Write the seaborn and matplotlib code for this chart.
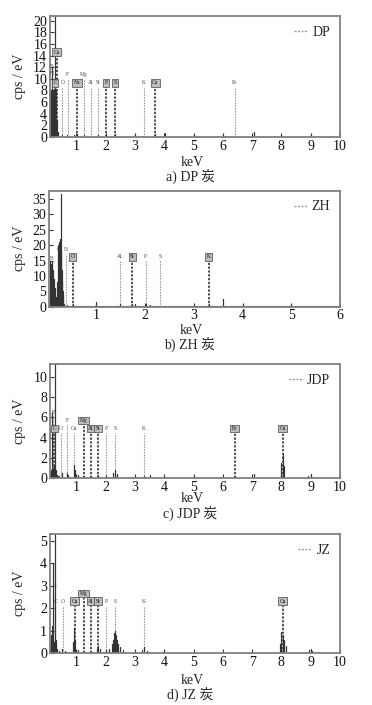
import numpy as np
import pandas as pd
import matplotlib
matplotlib.use("Agg")
import matplotlib.pyplot as plt
from matplotlib.lines import Line2D
import seaborn as sns

sns.set_style("ticks")
plt.rcParams["font.family"] = ["Liberation Serif", "Noto Sans CJK SC", "DejaVu Sans"]

# ---------------- data ----------------
# a) DP
a_kev = [0.10, 0.11, 0.12, 0.13, 0.14, 0.15, 0.16, 0.17, 0.18, 0.19, 0.20, 0.21, 0.22, 0.23,
         0.24, 0.25, 0.26, 0.27, 0.28, 0.29, 0.30, 0.31, 0.32, 0.33, 0.34, 0.35, 0.36,
         0.52, 0.68, 0.93, 1.02, 1.25, 1.49, 1.74, 2.01, 2.31, 3.00, 3.31, 3.69, 4.01,
         5.00, 6.00, 6.40, 7.05, 8.00, 9.00]
a_cps = [7.5, 3.0, 8.0, 2.5, 6.5, 1.5, 7.8, 3.0, 11.8, 2.0, 8.0, 3.5, 7.0, 4.0,
         8.2, 5.0, 9.0, 21.0, 8.5, 4.0, 8.0, 2.0, 7.0, 1.5, 3.0, 1.0, 0.8,
         0.3, 0.4, 0.3, 0.6, 0.3, 0.2, 0.3, 0.2, 0.5, 0.6, 0.2, 0.6, 0.7,
         0.3, 0.3, 0.2, 0.8, 0.3, 0.6]
a_el = ["B", "N", "Ca", "C", "O", "F", "Na", "Mg", "Al", "Si", "P", "S", "K", "Ca", "Fe"]
a_el_kev = [0.16, 0.18, 0.33, 0.28, 0.52, 0.70, 1.02, 1.25, 1.49, 1.74, 2.01, 2.31, 3.31, 3.69, 6.40]
a_el_y = [12.2, 10.9, 14.6, 9.3, 9.3, 10.7, 9.3, 10.7, 9.3, 9.3, 9.3, 9.3, 9.3, 9.3, 9.3]
a_el_box = [False, False, True, True, False, False, True, False, False, False, True, True, False, True, False]

# b) ZH
b_kev = [0.05, 0.06, 0.07, 0.08, 0.09, 0.10, 0.11, 0.12, 0.13, 0.14, 0.15, 0.16, 0.17, 0.18,
         0.19, 0.20, 0.21, 0.22, 0.23, 0.24, 0.25, 0.26, 0.27, 0.28, 0.29, 0.30, 0.31, 0.32,
         0.33, 0.39, 0.52, 1.00, 1.49, 1.74, 1.80, 2.01, 2.10, 3.00, 3.31, 3.60, 4.00, 5.00]
b_cps = [15, 4, 14, 3, 15, 5, 12, 3, 9, 2, 6, 2, 3, 1.5,
         3, 8, 4, 20, 6, 21, 9, 22, 36.5, 18, 8, 12, 3, 5,
         1, 0.5, 1.0, 1.5, 1.0, 1.0, 0.8, 0.8, 0.5, 0.5, 0.8, 2.5, 0.8, 1.0]
b_el = ["B", "C", "N", "O", "Al", "Si", "P", "S", "K"]
b_el_kev = [0.09, 0.22, 0.38, 0.52, 1.49, 1.74, 2.01, 2.31, 3.31]
b_el_y = [15.8, 18.6, 18.6, 16.2, 16.2, 16.2, 16.2, 16.2, 16.2]
b_el_box = [False, False, False, True, False, True, False, False, True]

# c) JDP
c_kev = [0.10, 0.11, 0.12, 0.13, 0.14, 0.15, 0.16, 0.17, 0.18, 0.19, 0.20, 0.21, 0.22, 0.23,
         0.24, 0.25, 0.26, 0.27, 0.28, 0.29, 0.30, 0.31, 0.32, 0.33, 0.34, 0.36, 0.40,
         0.52, 0.68, 0.70, 0.93, 0.95, 1.04, 1.25, 1.49, 1.74, 2.01, 2.25, 2.31, 2.40,
         3.00, 3.31, 3.50, 4.00, 5.00, 6.00, 6.40, 7.05, 8.00, 8.05, 8.10, 8.90, 9.00]
c_cps = [0.5, 0.3, 0.8, 0.4, 0.6, 0.5, 1.0, 0.6, 6.5, 0.8, 1.0, 0.5, 0.8, 0.6,
         1.2, 0.8, 0.6, 11.3, 1.0, 0.5, 0.8, 0.4, 0.5, 0.3, 0.3, 0.2, 0.2,
         0.5, 0.5, 0.3, 1.3, 0.8, 0.3, 0.2, 0.2, 0.3, 0.2, 0.5, 0.8, 0.4,
         0.15, 0.2, 0.25, 0.15, 0.1, 0.1, 0.2, 0.4, 1.5, 2.3, 1.2, 0.2, 0.4]
c_el = ["B", "C", "O", "F", "Cu", "Mg", "Al", "Si", "P", "S", "K", "Fe", "Cu"]
c_el_kev = [0.21, 0.25, 0.48, 0.68, 0.93, 1.25, 1.49, 1.74, 2.01, 2.31, 3.31, 6.40, 8.04]
c_el_y = [6.5, 4.9, 4.9, 5.7, 4.9, 5.7, 4.9, 4.9, 4.9, 4.9, 4.9, 4.9, 4.9]
c_el_box = [False, True, False, False, False, True, True, True, False, False, False, True, True]

# d) JZ
d_kev = [0.10, 0.12, 0.14, 0.16, 0.18, 0.19, 0.20, 0.22, 0.24, 0.26, 0.28, 0.30, 0.32, 0.34,
         0.40, 0.52, 0.60, 0.90, 0.93, 0.96, 1.04, 1.25, 1.49, 1.70, 1.74, 1.80, 2.01, 2.10,
         2.20, 2.25, 2.28, 2.31, 2.34, 2.38, 2.42, 2.50, 2.60, 3.25, 3.31, 3.40, 4.00, 5.00,
         6.00, 7.00, 7.95, 8.00, 8.05, 8.10, 8.15, 8.95, 9.00, 9.05, 10.0]
d_cps = [0.3, 0.8, 0.2, 0.5, 1.2, 4.0, 1.0, 0.3, 0.5, 0.8, 5.3, 0.6, 0.3, 0.2,
         0.1, 0.2, 0.1, 0.5, 1.1, 0.6, 0.15, 0.1, 0.1, 0.2, 0.3, 0.2, 0.15, 0.2,
         0.4, 0.6, 0.9, 1.0, 0.8, 0.6, 0.4, 0.25, 0.15, 0.15, 0.25, 0.1, 0.08, 0.06,
         0.05, 0.05, 0.4, 0.95, 0.8, 0.6, 0.3, 0.15, 0.2, 0.1, 0.05]
d_el = ["B", "C", "O", "Cu", "Mg", "Al", "Si", "P", "S", "K", "Cu"]
d_el_kev = [0.26, 0.28, 0.53, 0.95, 1.25, 1.49, 1.74, 2.01, 2.31, 3.31, 8.04]
d_el_y = [3.0, 2.3, 2.3, 2.3, 2.65, 2.3, 2.3, 2.3, 2.3, 2.3, 2.3]
d_el_box = [False, False, False, True, True, True, True, False, False, False, True]

names = ["DP", "ZH", "JDP", "JZ"]
captions = ["a) DP 炭", "b) ZH 炭", "c) JDP 炭", "d) JZ 炭"]
x_ticks = [list(range(1, 11)), list(range(1, 7)), list(range(1, 11)), list(range(1, 11))]
y_ticks = [list(range(0, 21, 2)), list(range(0, 36, 5)), list(range(0, 11, 2)), list(range(0, 6))]

# ---------------- layout ----------------
W, H = 372, 705
fig = plt.figure(figsize=(W / 100, H / 100), dpi=100)
# (left, top, right, bottom) in pixels
boxes = [(50, 16, 340, 137), (49, 190.7, 340, 306.7), (50, 364, 340, 478), (50, 534, 340, 653)]
xlims = [(0.1, 10), (0.03, 6), (0.1, 10), (0.1, 10)]
ylims = [(0, 20.8), (0, 37.7), (0, 11.3), (0, 5.3)]
cap_off = [39, 38, 35, 41]

panels = [
    (a_kev, a_cps, a_el, a_el_kev, a_el_y, a_el_box),
    (b_kev, b_cps, b_el, b_el_kev, b_el_y, b_el_box),
    (c_kev, c_cps, c_el, c_el_kev, c_el_y, c_el_box),
    (d_kev, d_cps, d_el, d_el_kev, d_el_y, d_el_box),
]

serif = ["Liberation Serif", "Noto Sans CJK SC", "DejaVu Sans"]

for i, (kev, cps, el, el_kev, el_y, el_box) in enumerate(panels):
    l, t, r, b = boxes[i]
    ax = fig.add_axes([l / W, 1 - b / H, (r - l) / W, (b - t) / H])
    ymax = ylims[i][1]

    # element marker lines (drawn first, behind spectrum)
    for k, yy, bx in zip(el_kev, el_y, el_box):
        ax.vlines(k, 0, yy - ymax * 0.035, colors="#222222" if bx else "#9a9a9a",
                  linestyles=(0, (1.5, 1.0)), linewidth=1.1 if bx else 0.8, zorder=1)

    # stick spectrum as a table: each stick goes 0 -> height -> 0
    xs, ys, order = [], [], []
    for k, c in zip(kev, cps):
        xs += [k, k, k]
        ys += [0, c, 0]
    df = pd.DataFrame({"keV": xs, "cps": ys})
    sns.lineplot(data=df, x="keV", y="cps", estimator=None, sort=False,
                 color="#333333", linewidth=0.8, ax=ax, zorder=2)
    ax.axhline(0.004 * ymax, color="#555555", linewidth=0.8, zorder=2)

    # element labels
    for name, k, yy, bx in zip(el, el_kev, el_y, el_box):
        if bx:
            ax.text(k, yy, name, fontsize=4, ha="center", va="center", color="#111111",
                    bbox=dict(boxstyle="square,pad=0.25", fc="#bdbdbd", ec="#444444", lw=0.5),
                    zorder=3)
        else:
            ax.text(k, yy, name, fontsize=4, ha="center", va="center", color="#444444", zorder=3)

    ax.set_xlim(*xlims[i])
    ax.set_ylim(*ylims[i])
    ax.set_xticks(x_ticks[i])
    ax.set_yticks(y_ticks[i])
    ax.tick_params(direction="in", length=3, width=0.8, colors="#333333", labelsize=10,
                   labelcolor="#111111", pad=2)
    for lab in ax.get_xticklabels() + ax.get_yticklabels():
        lab.set_family(serif)
    for sp in ax.spines.values():
        sp.set_visible(True)
        sp.set_color("#808080")
        sp.set_linewidth(1.3)

    ax.set_xlabel("keV", fontsize=10, family=serif)
    ax.xaxis.label.set_va("center")
    ax.xaxis.set_label_coords(0.49, -(cap_off[i] - 14) / (b - t))
    ax.set_ylabel("cps / eV", fontsize=10, family=serif)
    ax.yaxis.label.set_va("center")
    ax.yaxis.set_label_coords(-30 / (r - l), 0.5)

    handle = Line2D([], [], color="#999999", linestyle=(0, (1.5, 1.0)), linewidth=1.0)
    leg = ax.legend([handle], [names[i]], loc="upper right", frameon=False,
                    fontsize=10, handlelength=1.0, handletextpad=0.3,
                    borderaxespad=0.3, prop={"family": serif, "size": 10})

    fig.text(190 / W, 1 - (b + cap_off[i]) / H, captions[i], ha="center", va="center",
             fontsize=10, family=serif)

fig.savefig("out.png", dpi=100)
